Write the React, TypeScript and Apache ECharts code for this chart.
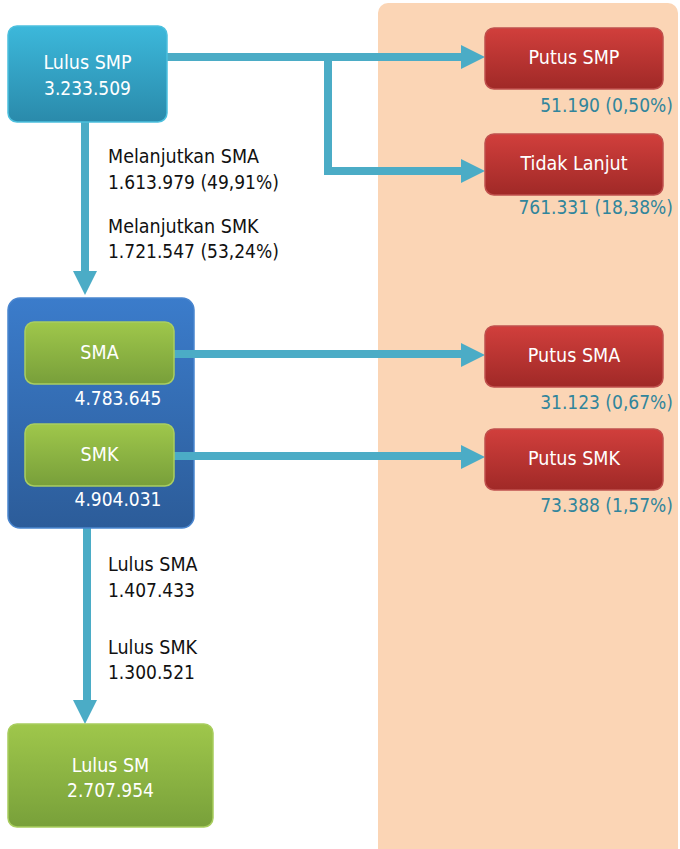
import React, { useEffect, useRef } from "react";
import * as echarts from "echarts";

// Node labels and values
const sourceNode = ["Lulus SMP", "3.233.509"];
const schoolNodes = ["SMA", "SMK"];
const schoolValues = ["4.783.645", "4.904.031"];
const dropNodes = ["Putus SMP", "Tidak Lanjut", "Putus SMA", "Putus SMK"];
const dropValues = ["51.190 (0,50%)", "761.331 (18,38%)", "31.123 (0,67%)", "73.388 (1,57%)"];
const continueLabels = ["Melanjutkan SMA", "1.613.979 (49,91%)", "Melanjutkan SMK", "1.721.547 (53,24%)"];
const graduateLabels = ["Lulus SMA", "1.407.433", "Lulus SMK", "1.300.521"];
const finalNode = ["Lulus SM", "2.707.954"];

const FONT = "'DejaVu Sans Condensed', 'Liberation Sans', sans-serif";
const ARROW = "#4bacc6";
const TEAL = "#31859c";
const WORD = 19.5;
const NUM = 19;

function grad(top: string, bottom: string) {
  return {
    type: "linear",
    x: 0,
    y: 0,
    x2: 0,
    y2: 1,
    colorStops: [
      { offset: 0, color: top },
      { offset: 1, color: bottom },
    ],
  };
}

function txt(text: string, x: number, y: number, fill: string, align = "center", size = WORD) {
  return {
    type: "text",
    z: 10,
    style: {
      text,
      x,
      y,
      fill,
      font: `${size}px ${FONT}`,
      textAlign: align,
      textVerticalAlign: "middle",
    },
  };
}

function box(x: number, y: number, w: number, h: number, top: string, bottom: string, stroke: string) {
  return {
    type: "rect",
    z: 7,
    shape: { x, y, width: w, height: h, r: 9 },
    style: { fill: grad(top, bottom), stroke, lineWidth: 1.5 },
  };
}

function line(points: number[][], z = 3) {
  return {
    type: "polyline",
    z,
    shape: { points },
    style: { stroke: ARROW, lineWidth: 8, fill: "none", lineJoin: "miter" },
  };
}

function headRight(x: number, y: number) {
  return {
    type: "polygon",
    z: 6,
    shape: { points: [[x - 24, y - 12], [x, y], [x - 24, y + 12]] },
    style: { fill: ARROW },
  };
}

function headDown(x: number, y: number) {
  return {
    type: "polygon",
    z: 6,
    shape: { points: [[x - 12, y - 24], [x + 12, y - 24], [x, y]] },
    style: { fill: ARROW },
  };
}

export default function App() {
  const ref = useRef<HTMLDivElement>(null);
  useEffect(() => {
    document.body.style.margin = "0";
    const chart = echarts.init(ref.current!, null, { renderer: "svg" });
    const redTop = "#d13f3c";
    const redBot = "#a02927";
    const redStroke = "#c0504d";
    const dropY = [28, 134, 326, 429];
    const dropValY = [105, 207, 402, 505];
    const schoolY = [322, 424];
    const schoolValY = [398, 499];

    const elements: any[] = [
      // peach background
      {
        type: "rect",
        z: 0,
        shape: { x: 378, y: 3, width: 300, height: 880, r: 10 },
        style: { fill: "#fbd5b5" },
      },
      // source node
      box(8, 26, 159, 96, "#3cb8db", "#2a8aab", "#4cc0de"),
      txt(sourceNode[0], 87.5, 62, "#ffffff"),
      txt(sourceNode[1], 87.5, 88, "#ffffff", "center", NUM),
      // arrows from source
      line([[167, 57], [462, 57]]),
      headRight(485, 57),
      line([[328, 57], [328, 171], [462, 171]]),
      headRight(485, 171),
      line([[85, 122], [85, 273]]),
      headDown(85, 295),
      // container
      {
        type: "rect",
        z: 4,
        shape: { x: 8, y: 298, width: 186, height: 230, r: 12 },
        style: { fill: grad("#3b7ccb", "#2c5c99"), stroke: "#4a86cf", lineWidth: 1.5 },
      },
      // arrow to final
      line([[87, 528], [87, 703]]),
      headDown(85, 724),
      // final node
      box(8, 724, 205, 103, "#9fc74b", "#78a03a", "#a8cd5e"),
      txt(finalNode[0], 110.5, 765, "#ffffff"),
      txt(finalNode[1], 110.5, 790, "#ffffff", "center", NUM),
    ];

    schoolNodes.forEach((name, i) => {
      const y = schoolY[i];
      elements.push(box(25, y, 149, 62, "#9fc74b", "#789f3a", "#a9ce62"));
      elements.push(txt(name, 99.5, y + 30, "#ffffff"));
      elements.push(txt(schoolValues[i], 118, schoolValY[i], "#ffffff", "center", NUM));
      const ay = y + 32;
      elements.push(line([[174, ay], [462, ay]], 5));
      elements.push(headRight(485, ay + 1));
    });

    dropNodes.forEach((name, i) => {
      const y = dropY[i];
      elements.push(box(485, y, 178, 61, redTop, redBot, redStroke));
      elements.push(txt(name, 574, y + 29, "#ffffff"));
      elements.push(txt(dropValues[i], 673, dropValY[i], TEAL, "right", NUM));
    });

    const contY = [156, 182, 226, 251];
    continueLabels.forEach((t, i) =>
      elements.push(txt(t, 108, contY[i], "#111111", "left", i % 2 === 0 ? WORD : NUM))
    );
    const gradY = [564, 590, 647, 672];
    graduateLabels.forEach((t, i) =>
      elements.push(txt(t, 108, gradY[i], "#111111", "left", i % 2 === 0 ? WORD : NUM))
    );

    chart.setOption({
      animation: false,
      graphic: { elements },
    });
    return () => chart.dispose();
  }, []);
  return <div ref={ref} style={{ width: 680, height: 849 }} />;
}
